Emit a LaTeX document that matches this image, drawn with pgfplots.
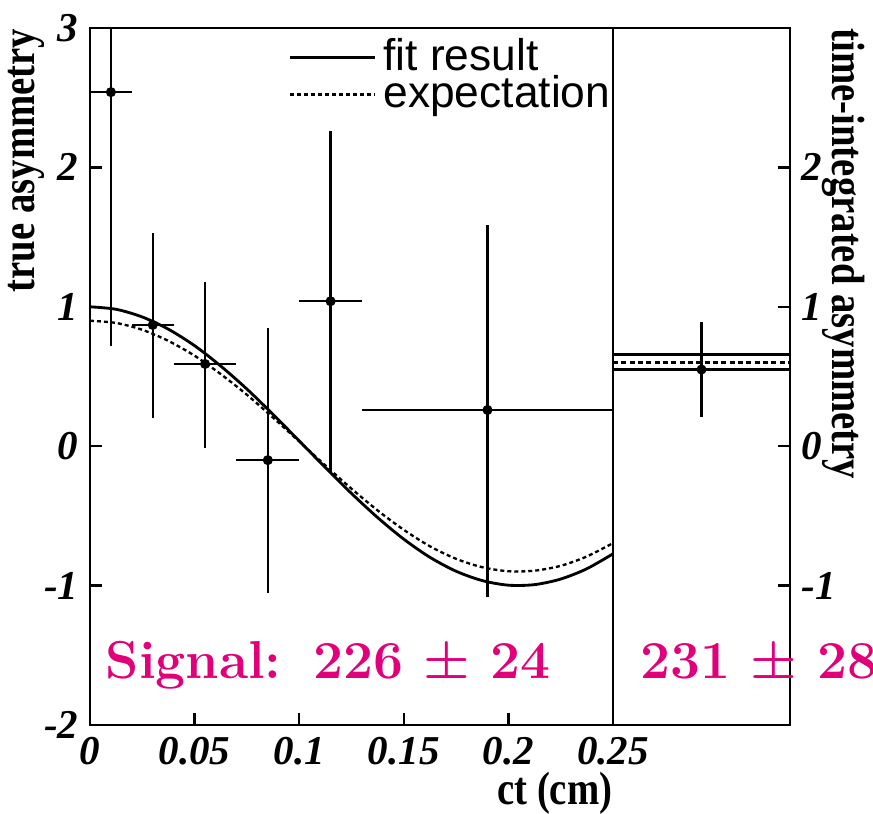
\documentclass[border=0pt]{standalone}
\usepackage{fontspec}
\setmainfont{Liberation Serif}
\newfontfamily\condfont[FakeStretch=0.83]{Liberation Serif}
\newfontfamily\legfont{Liberation Sans}
\newfontfamily\lmfont{Latin Modern Roman}
\usepackage{pgfplots}
\pgfplotsset{compat=1.18}
\definecolor{sigpink}{RGB}{225,0,122}

% binned true asymmetry vs ct
\pgfplotstableread{
x     y      exm    exp    eym   eyp
0.010  2.54  0.010  0.010  1.82  0.70
0.030  0.87  0.010  0.010  0.67  0.66
0.055  0.59  0.015  0.015  0.60  0.59
0.085 -0.10  0.015  0.015  0.95  0.95
0.115  1.04  0.015  0.015  1.23  1.22
0.190  0.26  0.060  0.060  1.34  1.33
}\bins

% curves
\pgfplotstableread{
x       fit      exp
0.0000  1.000    0.900
0.0125  0.982    0.884
0.0250  0.927    0.835
0.0375  0.839    0.755
0.0500  0.721    0.649
0.0625  0.575    0.517
0.0750  0.410    0.369
0.0875  0.228    0.205
0.1000  0.038    0.034
0.1125 -0.153   -0.138
0.1250 -0.339   -0.305
0.1375 -0.512   -0.461
0.1500 -0.667   -0.600
0.1625 -0.797   -0.718
0.1750 -0.897   -0.808
0.1875 -0.964   -0.868
0.2000 -0.997   -0.897
0.2125 -0.993   -0.893
0.2250 -0.953   -0.858
0.2375 -0.879   -0.791
0.2500 -0.772   -0.695
}\curves

\begin{document}
\begin{tikzpicture}
\pgfplotsset{
  every axis/.append style={
    scale only axis, height=209.1pt,
    ymin=-2, ymax=3,
    tick align=inside, major tick length=3.6pt,
    axis line style={line width=0.8pt},
    tick style={line width=0.7pt, black},
    tick label style={font=\fontsize{12.3}{13}\selectfont\bfseries\itshape},
  },
}
\begin{axis}[
  name=L, width=156.9pt,
  xmin=0, xmax=0.25,
  xtick={0,0.05,0.1,0.15,0.2,0.25},
  xticklabels={0,0.05,0.1,0.15,0.2,0.25},
  ytick={-2,-1,0,1,2,3},
  yticklabels={-2,-1,0,1,2,3},
  xtick pos=bottom, ytick pos=left,
  legend style={at={(rel axis cs:0.36,1)}, anchor=north west, yshift=1pt,
    draw=none, fill=none, row sep=-4pt,
    font=\legfont\fontsize{13.3}{13}\selectfont,
    cells={anchor=west}},
  legend image code/.code={\draw[#1] (0pt,0pt) -- (25.5pt,0pt);},
]
\addplot[only marks, mark=*, mark size=1.3pt, black, forget plot,
  error bars/.cd, x dir=both, x explicit, y dir=both, y explicit,
  error mark=none, error bar style={line width=0.7pt, black}]
  table[x=x, y=y, x error minus=exm, x error plus=exp,
        y error minus=eym, y error plus=eyp] {\bins};
\addplot[black, line width=0.85pt, smooth] table[x=x, y=fit] {\curves};
\addlegendentry{fit result}
\addplot[black, line width=0.7pt, smooth, dash pattern=on 1.2pt off 0.9pt]
  table[x=x, y=exp] {\curves};
\addlegendentry{expectation}
\end{axis}

\begin{axis}[
  name=R, at={(L.south east)}, anchor=south west, width=53.1pt,
  xmin=0, xmax=1, xtick=\empty,
  ytick={-1,0,1,2}, yticklabels={-1,0,1,2},
  ytick pos=right,
]
\addplot[black, line width=0.8pt] coordinates {(0,0.66) (1,0.66)};
\addplot[black, line width=0.8pt] coordinates {(0,0.55) (1,0.55)};
\addplot[black, line width=0.7pt, dash pattern=on 1.5pt off 1pt]
  coordinates {(0,0.60) (1,0.60)};
\addplot[only marks, mark=*, mark size=1.3pt, black,
  error bars/.cd, y dir=both, y explicit, error mark=none,
  error bar style={line width=0.7pt, black}]
  coordinates {(0.5,0.55) += (0,0.34) -= (0,0.34)};
\end{axis}

\node[rotate=90, anchor=south east, inner sep=0pt,
  font=\condfont\fontsize{14}{14}\selectfont\bfseries]
  at ([xshift=-13.5pt]L.north west) {true asymmetry};
\node[rotate=-90, anchor=south west, inner sep=0pt,
  font=\condfont\fontsize{14}{14}\selectfont\bfseries]
  at ([xshift=9.6pt]R.north east) {time-integrated asymmetry};
\node[anchor=north east, inner sep=0pt,
  font=\condfont\fontsize{14}{14}\selectfont\bfseries]
  at ([yshift=-14pt]L.south east) {ct (cm)};
\node[anchor=base west, inner sep=0pt, text=sigpink,
  font=\lmfont\fontsize{16}{16}\selectfont\bfseries]
  at ([xshift=4.5pt, yshift=14pt]L.south west) {Signal:\hspace{0.6em}226 ± 24};
\node[anchor=base west, inner sep=0pt, text=sigpink,
  font=\lmfont\fontsize{16}{16}\selectfont\bfseries]
  at ([xshift=8pt, yshift=14pt]R.south west) {231 ± 28};

\pgfresetboundingbox
\useasboundingbox ([xshift=-27pt, yshift=-26.4pt]L.south west)
  rectangle ([xshift=24.9pt, yshift=8.4pt]R.north east);
\end{tikzpicture}
\end{document}
